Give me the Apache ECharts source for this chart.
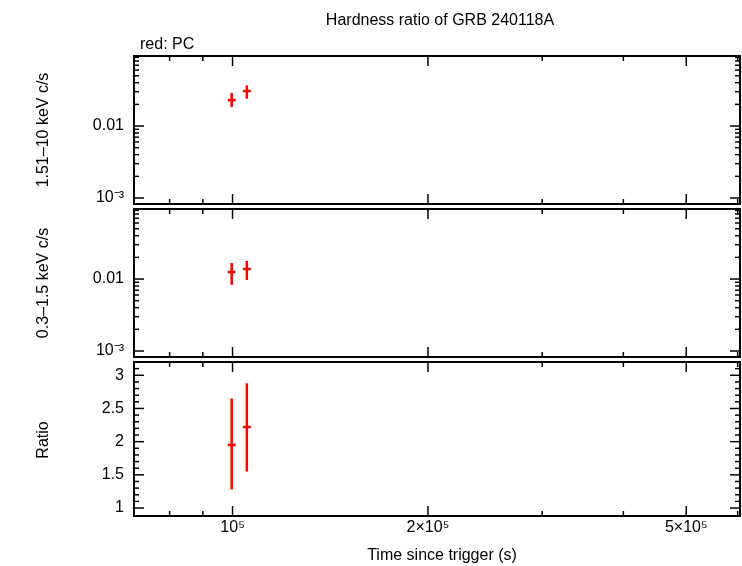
<!DOCTYPE html><html><head><meta charset="utf-8">
<script src="https://cdn.jsdelivr.net/npm/echarts@6/dist/echarts.min.js"></script>
<style>html,body{margin:0;background:#fff}#c{width:742px;height:566px}</style></head><body><div id="c"></div>
<script>
const times=[99700,105200];
const hardRate=[0.0229,0.0306], hardLo=[0.0184,0.0240], hardHi=[0.0288,0.0367];
const softRate=[0.0125,0.0138], softLo=[0.0083,0.0097], softHi=[0.0167,0.0178];
const ratio=[1.95,2.22], ratioLo=[1.28,1.55], ratioHi=[2.65,2.88];
const xErrLo=[98300,103700], xErrHi=[101100,106700];
const xMajor=[[1e5,'10⁵'],[2e5,'2×10⁵'],[5e5,'5×10⁵']];
const xMinor=[8e4,9e4,3e5,4e5,6e5];
const rateMajor=[[1e-3,'10⁻³'],[1e-2,'0.01']];
const rateMinor=[2e-3,3e-3,4e-3,5e-3,6e-3,7e-3,8e-3,9e-3,2e-2,3e-2,4e-2,5e-2,6e-2,7e-2,8e-2,9e-2];
const ratioMajor=[[1,'1'],[1.5,'1.5'],[2,'2'],[2.5,'2.5'],[3,'3']];
const ratioMinor=[1.1,1.2,1.3,1.4,1.6,1.7,1.8,1.9,2.1,2.2,2.3,2.4,2.6,2.7,2.8,2.9,3.1];
const L=Math.log10;
const xmin=L(70500), xmax=L(605000);
const grids=[{left:134,right:2,top:56,height:148},{left:134,right:2,top:209,height:148},{left:134,right:2,top:362,height:154}];
const font='Liberation Sans, Arial, sans-serif';
function axisX(i){return {type:'value',gridIndex:i,min:xmin,max:xmax,show:false};}
const yAxes=[
 {type:'value',gridIndex:0,min:L(8.25e-4),max:L(0.094),show:false},
 {type:'value',gridIndex:1,min:L(8.25e-4),max:L(0.094),show:false},
 {type:'value',gridIndex:2,min:0.88,max:3.2,show:false}];
function tickSeries(gi,yt,logY,showXLabels){
  const data=[];
  xMajor.forEach(t=>data.push(['x',L(t[0]),10,showXLabels?t[1]:'']));
  xMinor.forEach(t=>data.push(['x',L(t),5,'']));
  yt.major.forEach(t=>data.push(['y',logY?L(t[0]):t[0],10,t[1]]));
  yt.minor.forEach(t=>data.push(['y',logY?L(t):t,5,'']));
  const g=grids[gi];
  return {type:'custom',xAxisIndex:gi,yAxisIndex:gi,silent:true,clip:false,z:5,
   data:data.map(d=>[d[1],d[1],d[2],0,d[0]==='x'?0:1]),
   encode:{x:0,y:1},
   renderItem:(p,api)=>{
     const v=api.value(0),len=api.value(2),lab=data[p.dataIndex][3],isX=api.value(4)===0;
     const top=g.top,bot=g.top+g.height,left=g.left,right=742-g.right;
     const ch=[];const st={stroke:'#000',lineWidth:1.5};
     if(isX){const x=api.coord([v,yAxes[gi].min])[0];
       ch.push({type:'line',shape:{x1:x,y1:bot,x2:x,y2:bot-len},style:st});
       ch.push({type:'line',shape:{x1:x,y1:top,x2:x,y2:top+len},style:st});
       if(lab)ch.push({type:'text',style:{text:lab,x:x,y:bot+4,textAlign:'center',textVerticalAlign:'top',font:'16px '+font,fill:'#000'}});
     }else{const y=api.coord([xmin,v])[1];
       ch.push({type:'line',shape:{x1:left,y1:y,x2:left+len,y2:y},style:st});
       ch.push({type:'line',shape:{x1:right,y1:y,x2:right-len,y2:y},style:st});
       if(lab)ch.push({type:'text',style:{text:lab,x:left-10,y:y,textAlign:'right',textVerticalAlign:'middle',font:'16px '+font,fill:'#000'}});
     }
     return {type:'group',children:ch};
   }};
}
function errSeries(gi,vals,lo,hi,logY){
  const f=logY?L:(v=>v);
  return {type:'custom',xAxisIndex:gi,yAxisIndex:gi,z:10,
   data:times.map((t,i)=>[L(t),f(vals[i]),f(lo[i]),f(hi[i]),L(xErrLo[i]),L(xErrHi[i])]),
   encode:{x:0,y:1},
   renderItem:(p,api)=>{
     const c=api.coord([api.value(0),api.value(1)]);
     const lo=api.coord([api.value(0),api.value(2)]),hi=api.coord([api.value(0),api.value(3)]);
     const xl=api.coord([api.value(4),api.value(1)]),xh=api.coord([api.value(5),api.value(1)]);
     const st={stroke:'#f00',lineWidth:2.5};
     return {type:'group',children:[
       {type:'line',shape:{x1:c[0],y1:lo[1],x2:c[0],y2:hi[1]},style:st},
       {type:'line',shape:{x1:xl[0],y1:c[1],x2:xh[0],y2:c[1]},style:st}]};
   }};
}
const chart=echarts.init(document.getElementById('c'));
chart.setOption({animation:false,
 grid:grids.map(g=>Object.assign({show:true,borderColor:'#000',borderWidth:2,backgroundColor:'transparent'},g)),
 xAxis:[axisX(0),axisX(1),axisX(2)],yAxis:yAxes,
 title:[{text:'Hardness ratio of GRB 240118A',left:435,top:8,textAlign:'center',textStyle:{fontSize:16,fontWeight:'normal',fontFamily:font,color:'#000'}},
  {text:'red: PC',left:135,top:32,textStyle:{fontSize:16,fontWeight:'normal',fontFamily:font,color:'#000'}},
  {text:'Time since trigger (s)',left:437,top:543,textAlign:'center',textStyle:{fontSize:16,fontWeight:'normal',fontFamily:font,color:'#000'}}],
 graphic:[
  {type:'text',x:44,y:130,rotation:Math.PI/2,style:{text:'1.51–10 keV c/s',font:'16px '+font,textAlign:'center',textVerticalAlign:'middle',fill:'#000'}},
  {type:'text',x:44,y:283,rotation:Math.PI/2,style:{text:'0.3–1.5 keV c/s',font:'16px '+font,textAlign:'center',textVerticalAlign:'middle',fill:'#000'}},
  {type:'text',x:44,y:440,rotation:Math.PI/2,style:{text:'Ratio',font:'16px '+font,textAlign:'center',textVerticalAlign:'middle',fill:'#000'}}].map(o=>Object.assign(o,{originX:0,originY:0})),
 series:[
  tickSeries(0,{major:rateMajor,minor:rateMinor},true,false),
  tickSeries(1,{major:rateMajor,minor:rateMinor},true,false),
  tickSeries(2,{major:ratioMajor,minor:ratioMinor},false,true),
  errSeries(0,hardRate,hardLo,hardHi,true),
  errSeries(1,softRate,softLo,softHi,true),
  errSeries(2,ratio,ratioLo,ratioHi,false)]
});
</script></body></html>
